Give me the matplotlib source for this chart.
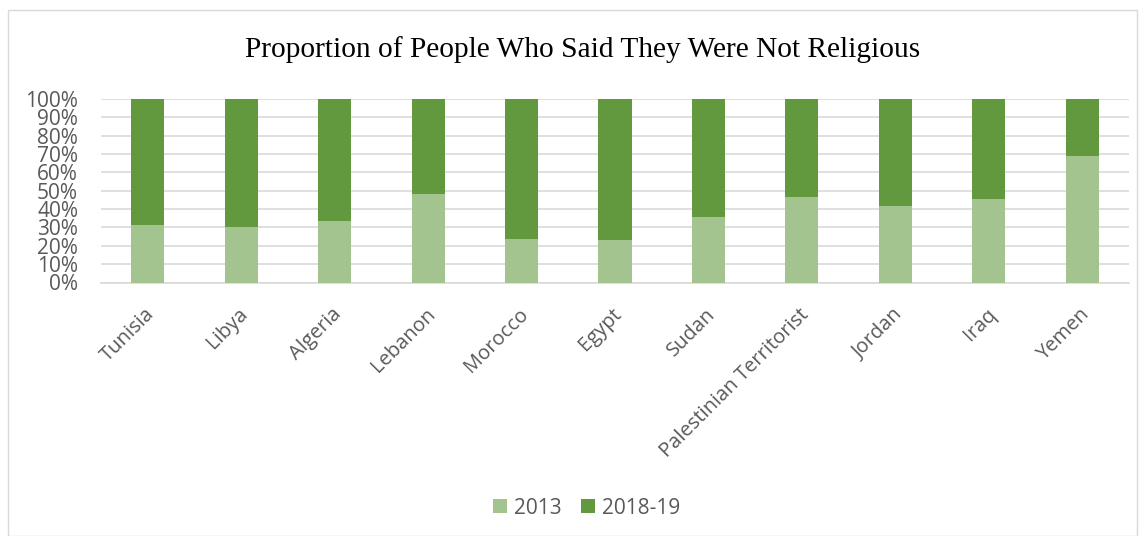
import numpy as np
import matplotlib
matplotlib.use('Agg')
import matplotlib.pyplot as plt
import matplotlib.transforms as mtransforms
from matplotlib.patches import Rectangle
from matplotlib.ticker import PercentFormatter

countries = ['Tunisia', 'Libya', 'Algeria', 'Lebanon', 'Morocco', 'Egypt', 'Sudan',
             'Palestinian Territorist', 'Jordan', 'Iraq', 'Yemen']
share_2013 = [31.1, 30.2, 33.3, 48.2, 23.5, 23.1, 35.6, 46.5, 41.6, 45.5, 68.9]
share_2018 = [100 - v for v in share_2013]

light = '#A3C48E'
dark = '#62993E'
grey = '#595959'

plt.rcParams['font.family'] = ['Open Sans', 'DejaVu Sans']

fig = plt.figure(figsize=(11.45, 5.36), dpi=100)
ax = fig.add_axes([101 / 1145, 1 - 282.5 / 536, (1129 - 101) / 1145, (282.5 - 99) / 536])

x = np.arange(len(countries))
width = 0.355
b1 = ax.bar(x, share_2013, width, color=light, label='2013', zorder=3)
b2 = ax.bar(x, share_2018, width, bottom=share_2013, color=dark, label='2018-19', zorder=3)

ax.set_xlim(-0.5, len(countries) - 0.5)
ax.set_ylim(0, 100)
ax.set_yticks(np.arange(0, 101, 10))
ax.yaxis.set_major_formatter(PercentFormatter(decimals=0))
ax.grid(axis='y', color='#D9D9D9', linewidth=1.2, zorder=0)
for s in ['top', 'right', 'left']:
    ax.spines[s].set_visible(False)
ax.spines['bottom'].set_color('#D9D9D9')
ax.spines['bottom'].set_linewidth(1.2)
ax.tick_params(axis='y', length=0, labelsize=15, labelcolor=grey, pad=16.5)
ax.tick_params(axis='x', length=0, labelsize=14.5, labelcolor=grey, pad=0)
ax.set_xticks(x)
ax.set_xticklabels(countries, rotation=45, ha='right', rotation_mode='anchor')

# shift rotated labels so their upper end sits like Excel's
offset = mtransforms.ScaledTranslation(-3 / 100, -22 / 100, fig.dpi_scale_trans)
for lbl in ax.get_xticklabels():
    lbl.set_transform(lbl.get_transform() + offset)

fig.text(582.5 / 1145, 1 - 49.5 / 536, 'Proportion of People Who Said They Were Not Religious',
         ha='center', va='center', fontsize=21.2, family='Liberation Serif', color='black')

fig.legend(handles=[b1, b2], labels=['2013', '2018-19'], loc='center',
           bbox_to_anchor=(586.5 / 1145, 1 - 508 / 536), ncol=2, frameon=False,
           fontsize=15, labelcolor=grey, handlelength=0.67, handleheight=0.67,
           handletextpad=0.35, columnspacing=0.9)

fig.patches.append(Rectangle((8 / 1145, 0), 1 - 16 / 1145, 1 - 10 / 536, transform=fig.transFigure,
                             fill=False, edgecolor='#D9D9D9', linewidth=1))

fig.savefig('out.png', dpi=100)
